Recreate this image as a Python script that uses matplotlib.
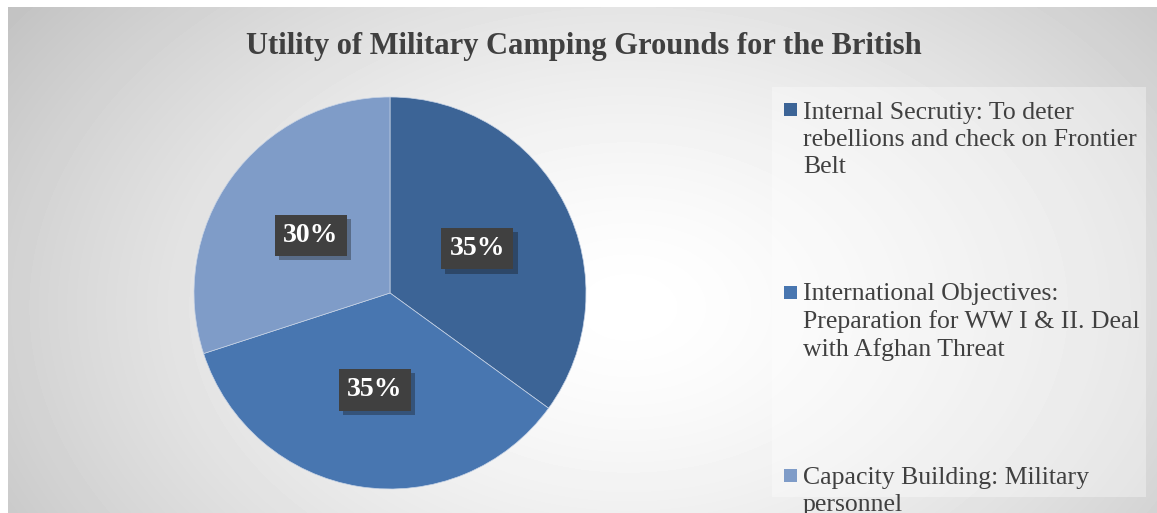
import numpy as np
import matplotlib
matplotlib.use("Agg")
import matplotlib.pyplot as plt
import matplotlib.patheffects as pe
from matplotlib.patches import Rectangle

# datos
categorias = [
    "Internal Secrutiy: To deter\nrebellions and check on Frontier\nBelt",
    "International Objectives:\nPreparation for WW I & II. Deal\nwith Afghan Threat",
    "Capacity Building: Military\npersonnel",
]
valores = [35, 35, 30]
colores = ["#3c6496", "#4876b0", "#7f9cc8"]
titulo = "Utility of Military Camping Grounds for the British"

W, H = 1157, 513
fig = plt.figure(figsize=(W / 100, H / 100), dpi=100)
fig.patch.set_facecolor("white")

# fondo con degradado radial
bg = fig.add_axes([8 / W, 0, 1 - 8 / W, 1 - 7 / H])
yy, xx = np.mgrid[0:506, 0:1149]
d = np.hypot((xx - 620) / 760, (yy - 300) / 520)
g = 1 - 0.24 * np.clip(d, 0, 1) ** 1.5
bg.imshow(g, cmap="gray", vmin=0, vmax=1, aspect="auto", interpolation="bilinear")
bg.axis("off")

fig.text(584 / W, 1 - 47 / H, titulo, ha="center", va="center",
         fontsize=22, fontweight="bold", color="#404040", family="Liberation Serif")

# tarta
ax = fig.add_axes([(390 - 196) / W, (220 - 196) / H, 392 / W, 392 / H])
wedges, textos, autotextos = ax.pie(
    valores, colors=colores, startangle=90, counterclock=False,
    autopct="%1.0f%%", pctdistance=0.5, radius=1,
    wedgeprops=dict(edgecolor="#c8d4e6", linewidth=0.5))
ax.set_xlim(-1, 1)
ax.set_ylim(-1, 1)
for t in autotextos:
    t.set_color("white")
    t.set_fontsize(20)
    t.set_fontweight("bold")
    t.set_family("Liberation Serif")
    t.set_bbox(dict(boxstyle="square,pad=0.3", facecolor="#404040", edgecolor="none"))
    t.get_bbox_patch().set_path_effects([pe.SimplePatchShadow(offset=(3, -3), alpha=0.35), pe.Normal()])

# leyenda
fig.patches.append(Rectangle((772 / W, 1 - 497 / H), 374 / W, 410 / H,
                             transform=fig.transFigure, facecolor="white",
                             alpha=0.35, edgecolor="none", zorder=1))
interlinea = 28
for i, (lab, col) in enumerate(zip(categorias, colores)):
    base = 117 + i * 183
    fig.patches.append(Rectangle((784 / W, 1 - (base - 1) / H), 13 / W, 13 / H,
                                 transform=fig.transFigure, facecolor=col,
                                 edgecolor="none", zorder=2))
    # va="baseline" sigue la base de la ultima linea
    ultima = base + interlinea * lab.count("\n")
    fig.text(803 / W, 1 - ultima / H, lab, ha="left", va="baseline",
             fontsize=18.5, color="#404040", family="Liberation Serif",
             linespacing=1.28, zorder=3)

fig.savefig("out.png", dpi=100)
